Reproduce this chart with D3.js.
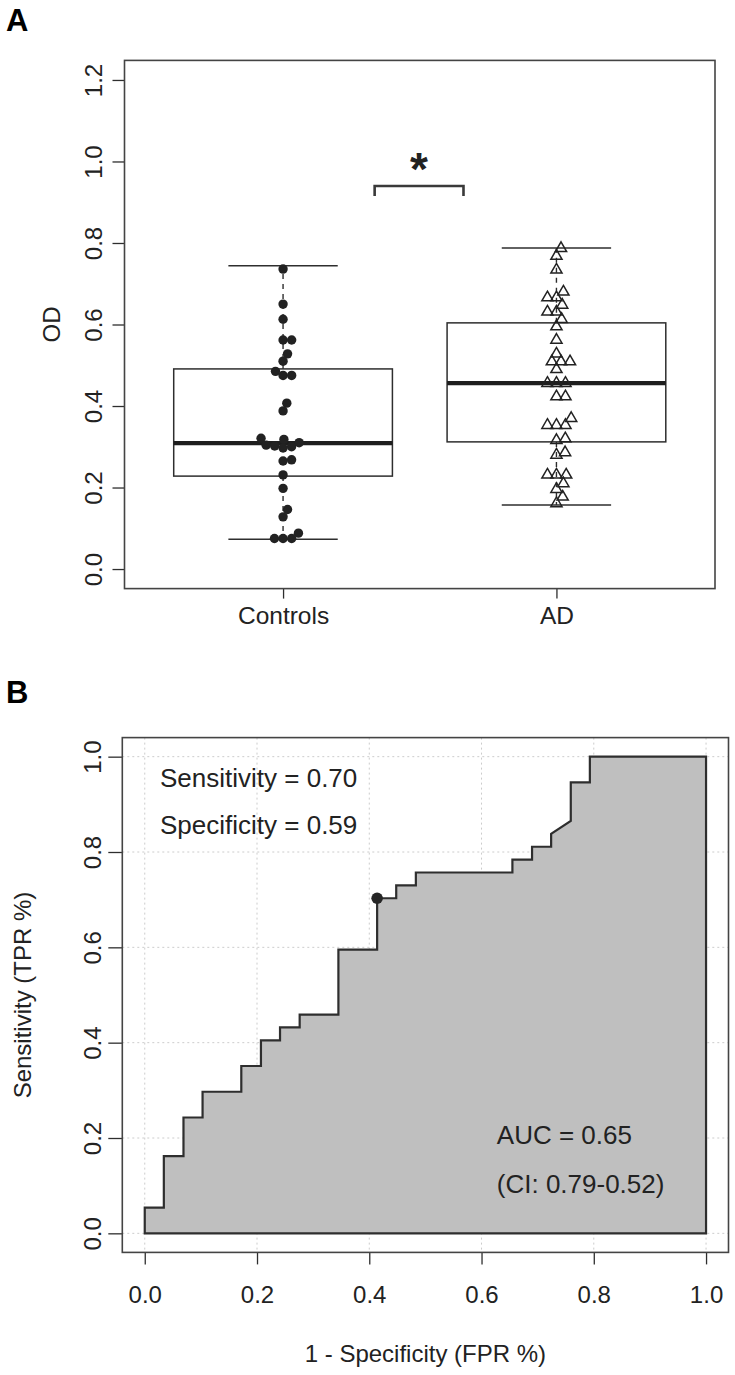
<!DOCTYPE html>
<html><head><meta charset="utf-8">
<script src="https://cdn.jsdelivr.net/npm/d3@7"></script>
<style>body{margin:0;background:#fff}svg{display:block}text{font-family:"Liberation Sans",Arial,Helvetica,sans-serif;fill:#222}</style>
</head><body><svg id="c" width="735" height="1375"></svg>
<script>
// ---------- Panel A data ----------
const groups = ["Controls", "AD"];
const controls = [0.736,0.650,0.613,0.562,0.562,0.528,0.510,0.485,0.475,0.475,0.407,0.388,
  0.321,0.318,0.310,0.304,0.302,0.300,0.297,0.268,0.265,0.231,0.198,0.146,0.128,0.088,0.075,0.075,0.075];
const ad = [0.787,0.768,0.734,0.680,0.666,0.666,0.648,0.631,0.631,0.613,0.595,0.562,0.528,
  0.509,0.509,0.509,0.490,0.456,0.456,0.456,0.423,0.423,0.370,0.353,0.353,0.353,
  0.320,0.316,0.286,0.280,0.231,0.231,0.231,0.210,0.196,0.177,0.161];
const boxLow  = [0.073, 0.157];
const boxQ1   = [0.228, 0.312];
const boxMed  = [0.309, 0.456];
const boxQ3   = [0.491, 0.604];
const boxHigh = [0.744, 0.788];
const odTicks = [0.0,0.2,0.4,0.6,0.8,1.0,1.2];

// ---------- Panel B data ----------
const rocFpr = [0,0,0.034,0.034,0.069,0.069,0.103,0.103,0.172,0.172,0.207,0.207,0.241,0.241,0.276,0.276,
  0.345,0.345,0.414,0.414,0.448,0.448,0.483,0.483,0.655,0.655,0.690,0.690,0.724,0.724,0.759,0.759,0.793,0.793,1];
const rocTpr = [0,0.054,0.054,0.162,0.162,0.243,0.243,0.297,0.297,0.351,0.351,0.405,0.405,0.432,0.432,0.459,
  0.459,0.595,0.595,0.703,0.703,0.730,0.730,0.757,0.757,0.784,0.784,0.811,0.811,0.838,0.865,0.946,0.946,1,1];
const bestPoint = [0.414, 0.703];
const rocTicks = [0,0.2,0.4,0.6,0.8,1.0];
const annTopLeft = ["Sensitivity = 0.70", "Specificity = 0.59"];
const annBottomRight = ["AUC = 0.65", "(CI: 0.79-0.52)"];

const svg = d3.select("#c");
const INK = "#2e2e2e";

// ================= PANEL A =================
const xA = d3.scaleLinear().domain([0.42, 2.58]).range([124.5, 715]);
const yA = d3.scaleLinear().domain([-0.048, 1.248]).range([588.6, 60.4]);
const u = xA(1) - xA(0);

svg.append("text").attr("x", 6).attr("y", 31).style("font-size","31px").style("font-weight","bold").style("fill","#000").text("A");

// y axis
const gyA = svg.append("g").attr("transform", `translate(${xA.range()[0]},0)`)
  .call(d3.axisLeft(yA).tickValues(odTicks).tickSize(12).tickFormat(d3.format(".1f")));
gyA.select(".domain").remove();
gyA.selectAll("line").attr("stroke", INK).attr("stroke-width", 1.3);
gyA.selectAll("text").attr("x", null).attr("dy", null).attr("text-anchor","middle")
  .attr("transform","translate(-23,0) rotate(-90)").style("font-size","24px").style("fill","#222");

// x axis
const gxA = svg.append("g").attr("transform", `translate(0,${yA.range()[0]})`)
  .call(d3.axisBottom(xA).tickValues([1,2]).tickSize(10).tickFormat((d,i)=>groups[i]));
gxA.select(".domain").remove();
gxA.selectAll("line").attr("stroke", INK).attr("stroke-width", 1.3);
gxA.selectAll("text").attr("y", 35.7).attr("dy", null).style("font-size","24.5px").style("fill","#222");

svg.append("text").attr("transform", `translate(60,${(yA.range()[0]+yA.range()[1])/2}) rotate(-90)`)
  .attr("text-anchor","middle").style("font-size","24px").text("OD");

// boxes
groups.forEach((g, i) => {
  const cx = xA(i+1), hw = 0.4*u, cap = 0.2*u;
  const G = svg.append("g").attr("stroke", INK).attr("fill","none");
  G.append("line").attr("x1",cx).attr("x2",cx).attr("y1",yA(boxQ3[i])).attr("y2",yA(boxHigh[i])).attr("stroke-dasharray","5,5").attr("stroke-width",1.4);
  G.append("line").attr("x1",cx).attr("x2",cx).attr("y1",yA(boxQ1[i])).attr("y2",yA(boxLow[i])).attr("stroke-dasharray","5,5").attr("stroke-width",1.4);
  G.append("line").attr("x1",cx-cap).attr("x2",cx+cap).attr("y1",yA(boxHigh[i])).attr("y2",yA(boxHigh[i])).attr("stroke-width",1.5);
  G.append("line").attr("x1",cx-cap).attr("x2",cx+cap).attr("y1",yA(boxLow[i])).attr("y2",yA(boxLow[i])).attr("stroke-width",1.5);
  G.append("rect").attr("x",cx-hw).attr("width",2*hw).attr("y",yA(boxQ3[i])).attr("height",yA(boxQ1[i])-yA(boxQ3[i])).attr("stroke-width",1.5);
  G.append("line").attr("x1",cx-hw).attr("x2",cx+hw).attr("y1",yA(boxMed[i])).attr("y2",yA(boxMed[i])).attr("stroke-width",4.2).attr("stroke","#1e1e1e");
});

// beeswarm layout (swarm method)
function swarm(vals, d) {
  const ys = vals.map(v => yA(v));
  const order = d3.range(vals.length).sort((a,b) => ys[b]-ys[a]);
  const placed = [], out = new Array(vals.length);
  order.forEach(i => {
    const y = ys[i];
    const cands = [0];
    placed.forEach(p => { const dy = Math.abs(p.y-y); if (dy < d) { const dx = Math.sqrt(d*d-dy*dy); cands.push(p.x+dx, p.x-dx); } });
    cands.sort((a,b) => Math.abs(a)-Math.abs(b));
    let x = 0;
    for (const c of cands) {
      if (placed.every(p => (p.x-c)*(p.x-c)+(p.y-y)*(p.y-y) >= d*d-1e-6)) { x = c; break; }
    }
    placed.push({x, y}); out[i] = x;
  });
  return out;
}
const offC = swarm(controls, 8.6);
svg.append("g").selectAll("circle").data(controls).join("circle")
  .attr("cx",(d,i)=>xA(1)+offC[i]).attr("cy",d=>yA(d)).attr("r",4.7).attr("fill","#222");
const offA = swarm(ad, 9.0);
const tri = d3.symbol(d3.symbolTriangle, 54);
svg.append("g").selectAll("path").data(ad).join("path")
  .attr("d", tri).attr("transform",(d,i)=>`translate(${xA(2)+offA[i]},${yA(d)})`)
  .attr("fill","none").attr("stroke","#222").attr("stroke-width",1.5);

// significance bracket
const bL = xA(1.335), bR = xA(1.66), bY = yA(0.94), bY2 = yA(0.915);
svg.append("path").attr("d", `M${bL},${bY2}V${bY}H${bR}V${bY2}`).attr("fill","none").attr("stroke","#3a3a3a").attr("stroke-width",2.6);
svg.append("text").attr("x",(bL+bR)/2).attr("y",185).attr("text-anchor","middle").style("font-size","46px").style("font-weight","bold").text("*");

// frame
svg.append("rect").attr("x",xA.range()[0]).attr("y",yA.range()[1]).attr("width",xA.range()[1]-xA.range()[0])
  .attr("height",yA.range()[0]-yA.range()[1]).attr("fill","none").attr("stroke","#444").attr("stroke-width",1.6);

// ================= PANEL B =================
const xB = d3.scaleLinear().domain([-0.04,1.04]).range([122.3,728.5]);
const yB = d3.scaleLinear().domain([-0.04,1.04]).range([1252.4,737.6]);

svg.append("text").attr("x", 6).attr("y", 703).style("font-size","31px").style("font-weight","bold").style("fill","#000").text("B");

// grid
const grid = svg.append("g").attr("stroke","#cccccc").attr("stroke-width",1).attr("stroke-dasharray","2,3");
rocTicks.forEach(t => {
  grid.append("line").attr("x1",xB(t)).attr("x2",xB(t)).attr("y1",yB.range()[1]).attr("y2",yB.range()[0]);
  grid.append("line").attr("y1",yB(t)).attr("y2",yB(t)).attr("x1",xB.range()[0]).attr("x2",xB.range()[1]);
});

// ROC polygon
const pts = rocFpr.map((f,i)=>[f, rocTpr[i]]);
pts.push([1,0]);
const area = d3.line().x(d=>xB(d[0])).y(d=>yB(d[1]));
svg.append("path").attr("d", area(pts)+"Z").attr("fill","#bfbfbf").attr("stroke","#2e2e2e").attr("stroke-width",2.2).attr("stroke-linejoin","miter");
svg.append("circle").attr("cx",xB(bestPoint[0])).attr("cy",yB(bestPoint[1])).attr("r",5.8).attr("fill","#262626");

// axes
const gyB = svg.append("g").attr("transform", `translate(${xB.range()[0]},0)`)
  .call(d3.axisLeft(yB).tickValues(rocTicks).tickSize(14).tickFormat(d3.format(".1f")));
gyB.select(".domain").remove();
gyB.selectAll("line").attr("stroke", INK).attr("stroke-width", 1.3);
gyB.selectAll("text").attr("x", null).attr("dy", null).attr("text-anchor","middle")
  .attr("transform","translate(-21,0) rotate(-90)").style("font-size","24px").style("fill","#222");

const gxB = svg.append("g").attr("transform", `translate(0,${yB.range()[0]})`)
  .call(d3.axisBottom(xB).tickValues(rocTicks).tickSize(12).tickFormat(d3.format(".1f")));
gxB.select(".domain").remove();
gxB.selectAll("line").attr("stroke", INK).attr("stroke-width", 1.3);
gxB.selectAll("text").attr("y", 50.6).attr("dy", null).style("font-size","24px").style("fill","#222");

svg.append("text").attr("x",(xB(0)+xB(1))/2).attr("y",1362).attr("text-anchor","middle").style("font-size","24px").text("1 - Specificity (FPR %)");
svg.append("text").attr("transform", `translate(31,${(yB(0)+yB(1))/2}) rotate(-90)`).attr("text-anchor","middle").style("font-size","24px").text("Sensitivity (TPR %)");

// annotations
annTopLeft.forEach((t,i)=> svg.append("text").attr("x",160).attr("y",786.7+47*i).style("font-size","26px").text(t));
annBottomRight.forEach((t,i)=> svg.append("text").attr("x",496.8).attr("y",1144+48.5*i).style("font-size","26px").text(t));

// frame
svg.append("rect").attr("x",xB.range()[0]).attr("y",yB.range()[1]).attr("width",xB.range()[1]-xB.range()[0])
  .attr("height",yB.range()[0]-yB.range()[1]).attr("fill","none").attr("stroke","#444").attr("stroke-width",1.6);
</script></body></html>
